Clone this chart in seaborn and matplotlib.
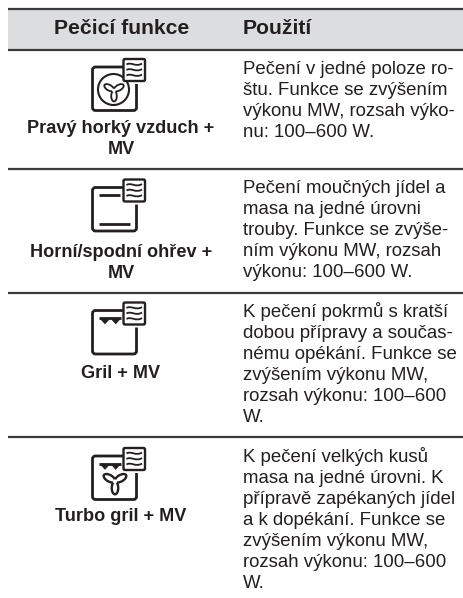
import numpy as np
import matplotlib
matplotlib.use("Agg")
import matplotlib.pyplot as plt
from matplotlib.patches import Rectangle, FancyBboxPatch, Ellipse, Circle, PathPatch, Polygon
from matplotlib.path import Path
import seaborn as sns

headers = ["Pečicí funkce", "Použití"]
functions = [
    ["Pravý horký vzduch +", "MV"],
    ["Horní/spodní ohřev +", "MV"],
    ["Gril + MV"],
    ["Turbo gril + MV"],
]
uses = [
    ["Pečení v jedné poloze ro-", "štu. Funkce se zvýšením", "výkonu MW, rozsah výko-", "nu: 100–600 W."],
    ["Pečení moučných jídel a", "masa na jedné úrovni", "trouby. Funkce se zvýše-", "ním výkonu MW, rozsah", "výkonu: 100–600 W."],
    ["K pečení pokrmů s kratší", "dobou přípravy a součas-", "nému opékání. Funkce se", "zvýšením výkonu MW,", "rozsah výkonu: 100–600", "W."],
    ["K pečení velkých kusů", "masa na jedné úrovni. K", "přípravě zapékaných jídel", "a k dopékání. Funkce se", "zvýšením výkonu MW,", "rozsah výkonu: 100–600", "W."],
]

INK = "#231f20"
sns.set_theme(style="white")
plt.rcParams["font.family"] = ["Liberation Sans", "DejaVu Sans"]

fig = plt.figure(figsize=(4.63, 5.98), dpi=100)
ax = fig.add_axes([0, 0, 1, 1])
ax.set_xlim(0, 463)
ax.set_ylim(598, 0)
ax.axis("off")


def line(xs, ys, lw=2):
    ax.plot(xs, ys, color=INK, lw=lw, solid_capstyle="butt", zorder=3)


def wave(x0, y, w):
    verts = [(x0, y), (x0 + w * 0.3, y - 3), (x0 + w * 0.6, y + 3), (x0 + w, y - 1)]
    ax.add_patch(PathPatch(Path(verts, [Path.MOVETO, Path.CURVE4, Path.CURVE4, Path.CURVE4]),
                           fc="none", ec=INK, lw=1.3, zorder=6))


def fan(cx, cy, size, lw):
    for ang in (90, 210, 330):
        a = np.radians(ang)
        ex = cx + np.cos(a) * size * 0.62
        ey = cy + np.sin(a) * size * 0.62
        ax.add_patch(Ellipse((ex, ey), size * 1.2, size * 0.62, angle=ang, fc="white", ec=INK, lw=lw, zorder=4))
    ax.add_patch(Circle((cx, cy), size * 0.2, fc="white", ec="none", zorder=5))


def icon(top, kind, left=92.5, right=136.5):
    bottom = top + 43.5
    # oven frame, the right side is cut by the microwave box
    verts = [(right - 13, top), (left + 3, top), (left, top), (left, top + 3), (left, bottom - 3), (left, bottom),
             (left + 3, bottom), (right - 3, bottom), (right, bottom), (right, bottom - 3), (right, top + 17)]
    codes = [Path.MOVETO, Path.LINETO, Path.CURVE3, Path.CURVE3, Path.LINETO, Path.CURVE3, Path.CURVE3,
             Path.LINETO, Path.CURVE3, Path.CURVE3, Path.LINETO]
    ax.add_patch(PathPatch(Path(verts, codes), fc="none", ec=INK, lw=2.0, zorder=3))
    if kind == "fan_ring":
        ax.add_patch(Circle((113.5, top + 22.5), 15.5, fc="none", ec=INK, lw=1.5, zorder=3))
        fan(114, top + 23.5, 9, 1.3)
    if kind == "heat":
        line([99, 120], [top + 7.5, top + 7.5])
        line([99, 130], [top + 36.5, top + 36.5])
    if kind in ("grill", "turbo"):
        line([99, 120.5], [top + 7.5, top + 7.5])
    if kind == "turbo":
        fan(115, top + 25.5, 10.5, 1.7)
    if kind in ("grill", "turbo"):
        for x in (105, 115.7):
            ax.add_patch(Polygon([(x - 5, top + 8), (x + 5, top + 8), (x, top + 13.5)], fc=INK, ec=INK, lw=0.3, zorder=6))
    box = FancyBboxPatch((123.5, top - 8), 21.5, 22, boxstyle="round,pad=0,rounding_size=1.5",
                         fc="white", ec=INK, lw=1.7, zorder=5)
    ax.add_patch(box)
    for dy in (-2.5, 3, 8.5):
        wave(126.5, top + dy, 15.5)


ax.add_patch(Rectangle((8, 9), 455, 40, fc="#dcddde", ec="none", zorder=1))
for y in (8.7, 49.5, 168.7, 292.5, 437):
    ax.plot([8, 463], [y, y], color="#3a3a3c", lw=1.6, zorder=2, solid_capstyle="butt")

ax.text(121.5, 34, headers[0], ha="center", va="baseline", fontsize=15.2, fontweight="bold", color=INK)
ax.text(243, 34, headers[1], ha="left", va="baseline", fontsize=15.2, fontweight="bold", color=INK)

icon_tops = [67, 187.5, 310.5, 456]
kinds = ["fan_ring", "heat", "grill", "turbo"]
label_y = [133, 257, 378, 521]
use_y = [74, 192.7, 317, 462]
LABEL_STEP = 20.5
USE_STEP = 21

for i in range(len(functions)):
    icon(icon_tops[i], kinds[i])
    for n, txt in enumerate(functions[i]):
        ax.text(121, label_y[i] + n * LABEL_STEP, txt, ha="center", va="baseline", fontsize=13.1, fontweight="bold", color=INK)
    for n, txt in enumerate(uses[i]):
        ax.text(243, use_y[i] + n * USE_STEP, txt, ha="left", va="baseline", fontsize=13.4, color=INK)

fig.savefig("out.png", dpi=100)
